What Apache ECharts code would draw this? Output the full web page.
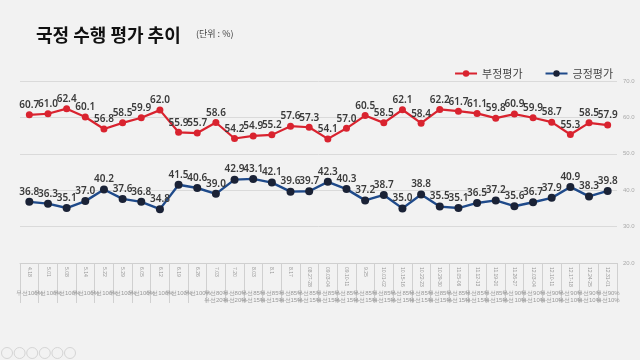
<!DOCTYPE html>
<html><head><meta charset="utf-8">
<script src="https://cdn.jsdelivr.net/npm/echarts@6/dist/echarts.min.js"></script>
<style>html,body{margin:0;padding:0;background:#f2f2f2}#c{width:640px;height:360px}</style>
</head><body><div id="c"></div>
<script>
var dates = ['4.18','5.01','5.08','5.14','5.22','5.29','6.05','6.12','6.19','6.26','7.03','7.20','8.03','8.1','8.17','08.27-28','09.03-04','09.10-11','9.25','10.01-02','10.15-16','10.22-23','10.29-30','11.05-06','11.12-13','11.19-20','11.26-27','12.03-04','12.10-11','12.17-18','12.24-25','12.31-01'];
var methods = ['무선100%','무선100%','무선100%','무선100%','무선100%','무선100%','무선100%','무선100%','무선100%','무선100%','무선80%\n유선20%','무선80%\n유선20%','무선85%\n유선15%','무선85%\n유선15%','무선85%\n유선15%','무선85%\n유선15%','무선85%\n유선15%','무선85%\n유선15%','무선85%\n유선15%','무선85%\n유선15%','무선85%\n유선15%','무선85%\n유선15%','무선85%\n유선15%','무선85%\n유선15%','무선85%\n유선15%','무선85%\n유선15%','무선90%\n유선10%','무선90%\n유선10%','무선90%\n유선10%','무선90%\n유선10%','무선90%\n유선10%','무선90%\n유선10%'];
var negative = [60.7,61.0,62.4,60.1,56.8,58.5,59.9,62.0,55.9,55.7,58.6,54.2,54.9,55.2,57.6,57.3,54.1,57.0,60.5,58.5,62.1,58.4,62.2,61.7,61.1,59.8,60.9,59.9,58.7,55.3,58.5,57.9];
var positive = [36.8,36.3,35.1,37.0,40.2,37.6,36.8,34.8,41.5,40.6,39.0,42.9,43.1,42.1,39.6,39.7,42.3,40.3,37.2,38.7,35.0,38.8,35.5,35.1,36.5,37.2,35.6,36.7,37.9,40.9,38.3,39.8];
var yTicks = {min:20, max:70, interval:10};

var chart = echarts.init(document.getElementById('c'));
var labelStyle = {show:true, position:'top', distance:1, fontSize:10, fontWeight:600, color:'#3a3a3a',
  fontFamily:'Noto Sans, sans-serif', formatter:function(p){return p.value.toFixed(1);}};
var circles = [];
for (var i=0;i<6;i++){
  circles.push({type:'circle', shape:{cx:7+i*12.6, cy:353, r:5.5}, style:{fill:'none', stroke:'#d5d5d5', lineWidth:1}});
}
chart.setOption({
  backgroundColor:'#f2f2f2',
  animation:false,
  title:{text:'국정 수행 평가 추이', left:31, top:21,
    textStyle:{fontSize:18, fontWeight:'bold', color:'#111', fontFamily:'Noto Sans CJK KR'}},
  graphic:[{type:'text', left:196, top:29, style:{text:'(단위 : %)', fontSize:9, fill:'#444', fontFamily:'Noto Sans CJK KR'}}].concat(circles),
  legend:{right:22, top:63, itemGap:22, itemWidth:22, itemHeight:8,
    textStyle:{fontSize:11, color:'#444', fontFamily:'Noto Sans CJK KR'},
    data:['부정평가','긍정평가']},
  grid:{left:20, right:23, top:81, bottom:97},
  xAxis:[{type:'category', data:dates, boundaryGap:true, position:'bottom',
    axisLine:{lineStyle:{color:'#cfcfcf'}},
    axisTick:{show:true, length:40, lineStyle:{color:'#d0d0d0'}},
    axisLabel:{rotate:-90, fontSize:5, color:'#999', margin:4, interval:0}},
   {type:'category', data:methods, boundaryGap:true, position:'bottom', offset:27,
    axisLine:{show:false}, axisTick:{show:false},
    axisLabel:{fontSize:6, color:'#999', lineHeight:7, interval:0, margin:0, verticalAlign:'top'}}],
  yAxis:{type:'value', position:'right', min:yTicks.min, max:yTicks.max, interval:yTicks.interval,
    axisLine:{show:false}, axisTick:{show:false},
    axisLabel:{fontSize:6, color:'#aaa', margin:6, formatter:function(v){return v.toFixed(1);}},
    splitLine:{lineStyle:{color:'#dadada', width:1}}},
  series:[
    {name:'부정평가', type:'line', data:negative, symbol:'circle', symbolSize:7,
      lineStyle:{color:'#d9232f', width:2.2}, itemStyle:{color:'#d9232f'}, label:labelStyle},
    {name:'긍정평가', type:'line', data:positive, symbol:'circle', symbolSize:8,
      lineStyle:{color:'#1f4a8a', width:2.4}, itemStyle:{color:'#1a2236'}, label:labelStyle}
  ]
});
</script></body></html>
